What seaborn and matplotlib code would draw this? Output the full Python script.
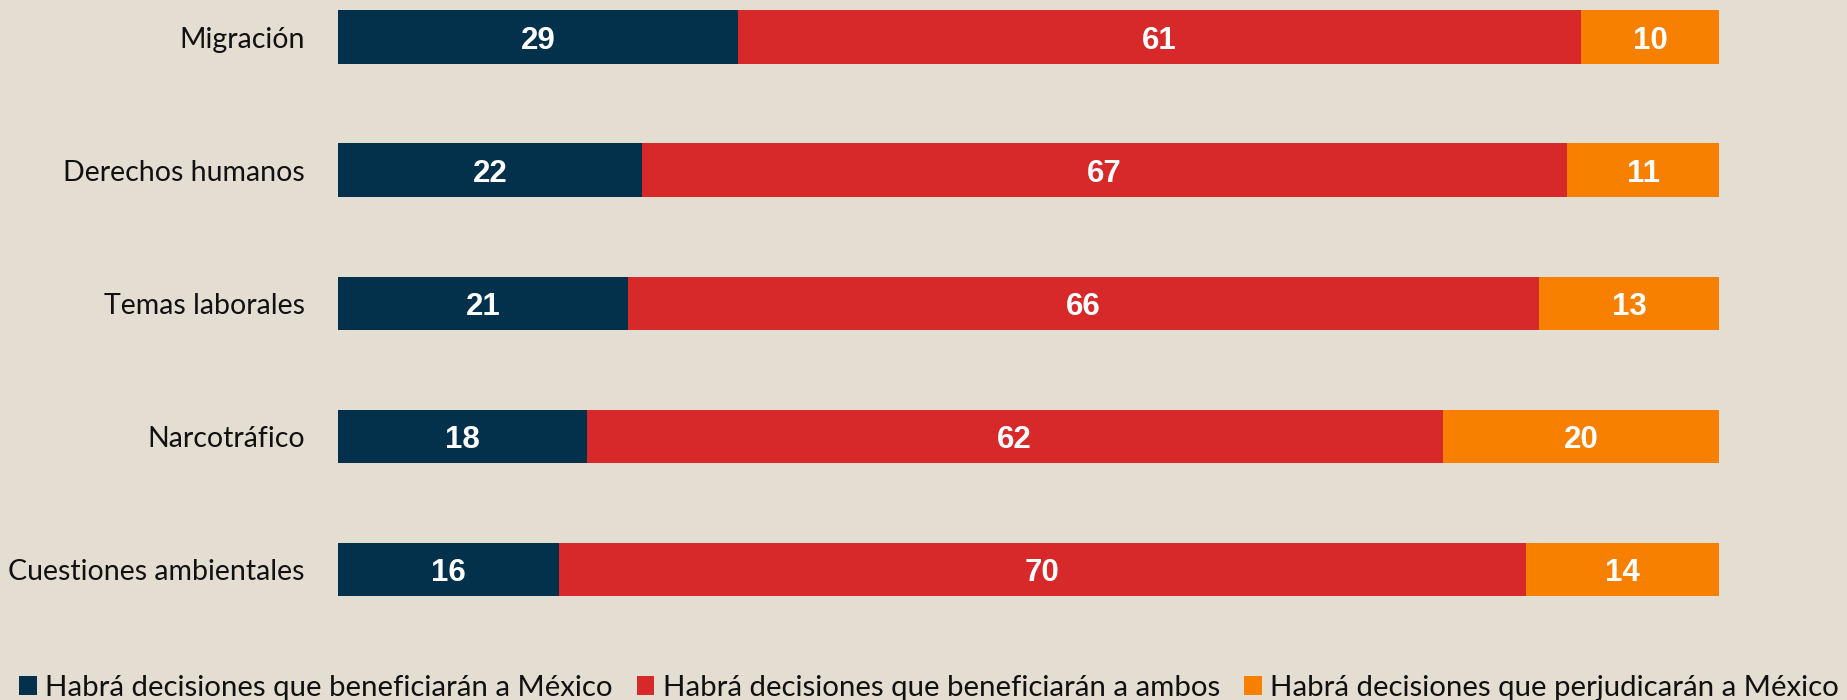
import matplotlib
matplotlib.use("Agg")
import matplotlib.pyplot as plt
import seaborn as sns
import pandas as pd
import numpy as np
from matplotlib.patches import Patch

categories = ["Migración", "Derechos humanos", "Temas laborales", "Narcotráfico", "Cuestiones ambientales"]
benefit_mexico = [29, 22, 21, 18, 16]
benefit_both = [61, 67, 66, 62, 70]
harm_mexico = [10, 11, 13, 20, 14]
series_names = ["Habrá decisiones que beneficiarán a México",
                "Habrá decisiones que beneficiarán a ambos",
                "Habrá decisiones que perjudicarán a México"]
colors = ["#03304a", "#d7282a", "#f78000"]
bg = "#e4ddd2"

sns.set_theme(style="white")
plt.rcParams["font.family"] = ["Lato", "DejaVu Sans"]

fig = plt.figure(figsize=(18.47, 7.0), dpi=100, facecolor=bg)
ax = fig.add_axes([338/1847, 1 - 636/700, (1719 - 338)/1847, 636/700])
ax.set_facecolor(bg)

series = [benefit_mexico, benefit_both, harm_mexico]
cum = np.cumsum(np.array(series), axis=0)
df = pd.DataFrame({"cat": categories})
# draw from the longest cumulative to the shortest so segments stack
for i in reversed(range(3)):
    df["v"] = cum[i]
    sns.barplot(data=df, x="v", y="cat", orient="h", color=colors[i],
                width=0.4, ax=ax, saturation=1, edgecolor="none", linewidth=0)

for j in range(len(categories)):
    start = 0
    for i in range(3):
        val = series[i][j]
        ax.text(start + val / 2, j, f"{val}", ha="center", va="center_baseline",
                color="white", fontsize=22.5, fontweight="bold",
                family="Liberation Sans")
        start += val

ax.set_xlim(0, 100)
ax.set_ylim(4.5, -0.278)
ax.set_xlabel("")
ax.set_ylabel("")
ax.set_xticks([])
ax.tick_params(axis="y", length=0, pad=24, labelsize=20.5, labelcolor="#111111")
for s in ax.spines.values():
    s.set_visible(False)

handles = [Patch(facecolor=c, edgecolor="none") for c in colors]
fig.legend(handles, series_names, loc="center", bbox_to_anchor=(0.503, 0.017),
           ncol=3, frameon=False, fontsize=21.2, handlelength=0.6, handleheight=0.6,
           handletextpad=0.3, columnspacing=0.8, labelcolor="#111111")

fig.savefig("out.png", dpi=100, facecolor=bg)
